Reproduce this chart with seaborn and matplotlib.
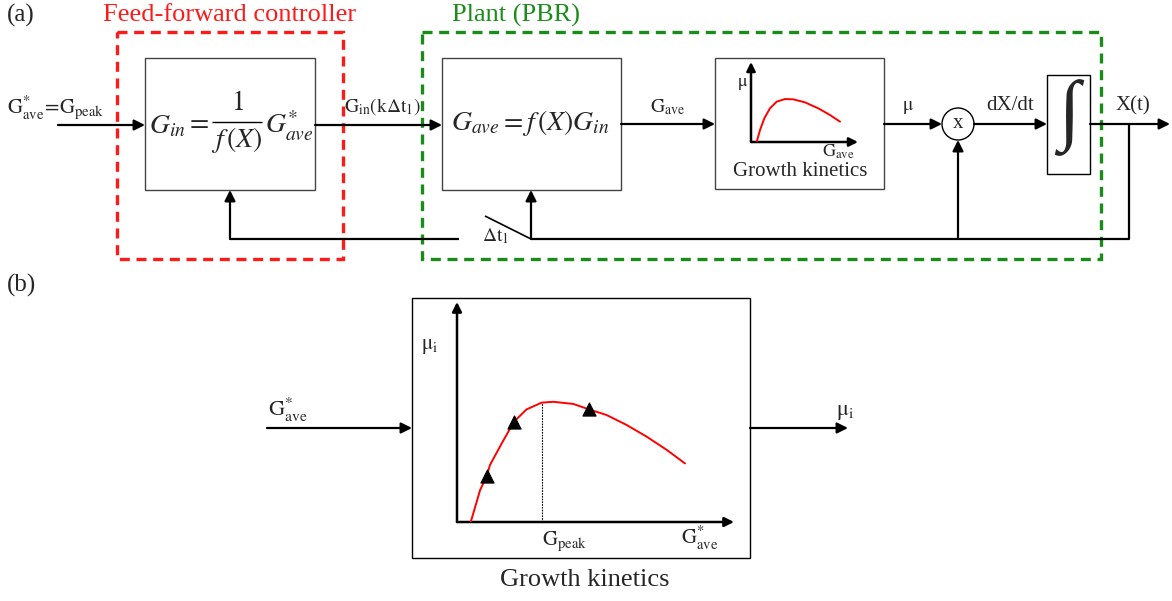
import numpy as np
import matplotlib
matplotlib.use("Agg")
import matplotlib.pyplot as plt
from matplotlib.patches import Rectangle, Circle
import seaborn as sns
import pandas as pd

# ---------------- data (normalised axes units) ----------------
# Growth kinetics curve of panel (b): G*_ave (x) vs mu_i (y), 0..1 of axis length
curve_G = [0.050, 0.084, 0.108, 0.120, 0.163, 0.207, 0.253, 0.308, 0.350, 0.423,
           0.480, 0.544, 0.617, 0.690, 0.763, 0.829]
curve_mu = [0.000, 0.147, 0.212, 0.263, 0.363, 0.462, 0.519, 0.550, 0.554, 0.544,
            0.519, 0.493, 0.447, 0.393, 0.332, 0.270]
# triangle markers on the curve
tri_G = [0.108, 0.207, 0.480]
tri_mu = [0.212, 0.462, 0.519]
# peak irradiance marker
G_peak = 0.308
mu_at_peak = 0.550
# small curve inside the "Growth kinetics" block of panel (a)
small_G = [0.054, 0.086, 0.127, 0.181, 0.244, 0.324, 0.403, 0.514, 0.641, 0.752, 0.848]
small_mu = [0.000, 0.152, 0.300, 0.427, 0.510, 0.544, 0.540, 0.502, 0.426, 0.342, 0.257]

# ---------------- style ----------------
sns.set_theme(style="white")
plt.rcParams['font.family'] = ['Liberation Serif', 'DejaVu Serif']
plt.rcParams['mathtext.fontset'] = 'stix'

W, H = 1172, 601
fig = plt.figure(figsize=(W / 100, H / 100), dpi=100)
ax = fig.add_axes([0, 0, 1, 1])
ax.set_xlim(0, W)
ax.set_ylim(H, 0)
ax.axis('off')

K = 'black'
LW = 1.6


def arrow(x0, y0, x1, y1, lw=LW, ms=16):
    ax.annotate('', xy=(x1, y1), xytext=(x0, y0),
                arrowprops=dict(arrowstyle='-|>', color=K, lw=lw, mutation_scale=ms,
                                shrinkA=0, shrinkB=0))


def line(xs, ys, lw=LW, **kw):
    ax.plot(xs, ys, color=K, lw=lw, solid_capstyle='butt', **kw)


def box(x0, y0, x1, y1, ec='#444444', lw=1.0):
    ax.add_patch(Rectangle((x0, y0), x1 - x0, y1 - y0, fill=False, ec=ec, lw=lw))


def txt(x, y, s, size=13, **kw):
    ax.text(x, y, s, fontsize=size, ha='center', va='center', **kw)


# ---------------- panel (a) ----------------
txt(21, 15, '(a)', size=18)
red = '#ff1a1a'
green = '#1a8c1a'
txt(230, 15, 'Feed-forward controller', size=19, color=red)
txt(516, 15, 'Plant (PBR)', size=19, color=green)
ax.add_patch(Rectangle((117, 32), 226, 227, fill=False, ec=red, lw=2.4, ls=(0, (3, 2))))
ax.add_patch(Rectangle((422, 32), 679, 227, fill=False, ec=green, lw=2.4, ls=(0, (3, 2))))

# controller block
box(145, 58, 315, 190)
txt(167, 127, r'$G_{in}$', size=20)
txt(197, 123, r'$=$', size=20)
line([212, 262], [122, 122], lw=1.0)
txt(237, 104, r'$1$', size=20)
txt(237, 140, r'$f\,(X)$', size=20)
txt(289, 126, r'$G^{*}_{ave}$', size=20)
arrow(58, 125, 145, 125)
txt(56, 107, r'$\mathrm{G^{*}_{ave}\!=\!G_{peak}}$', size=15)

# plant block
arrow(315, 125, 442, 125)
txt(383, 107, r'$\mathrm{G_{in}(k\Delta t_1)}$', size=14)
box(442, 58, 621, 190)
txt(530, 123, r'$G_{ave}=f\,(X)G_{in}$', size=20)

arrow(621, 124, 715, 124)
txt(668, 107, r'$\mathrm{G_{ave}}$', size=14)

# growth kinetics block
box(715, 58, 884, 189)
arrow(751, 142, 751, 62, lw=1.8, ms=13)
arrow(751, 142, 858, 142, lw=1.8, ms=13)
txt(743, 84, r'$\mathrm{\mu}$', size=13)
txt(838, 152, r'$\mathrm{G_{ave}}$', size=13)
txt(800, 172, 'Growth kinetics', size=15)
ax_s = fig.add_axes([751 / W, (H - 142) / H, 105 / W, 79 / H])
ax_s.set_xlim(0, 1)
ax_s.set_ylim(0, 1)
ax_s.axis('off')
sns.lineplot(x=small_G, y=small_mu, ax=ax_s, color='red', lw=1.4, sort=False)

# multiplier
arrow(884, 124, 942, 124)
txt(908, 107, r'$\mathrm{\mu}$', size=14)
ax.add_patch(Circle((958, 124), 16, fill=False, ec=K, lw=1.0))
txt(958, 123, 'x', size=15)
arrow(974, 124, 1047, 124)
txt(1010, 106, 'dX/dt', size=15)

# integrator
box(1047, 75, 1090, 174, ec=K)
ax.text(1069, 118, '\u222b', fontsize=56, ha='center', va='center',
        family=['Liberation Serif', 'DejaVu Serif'], fontweight='bold')
arrow(1090, 124, 1170, 124)
txt(1133, 106, 'X(t)', size=15)

# feedback path
line([1129, 1129, 531], [124, 239, 239])
line([459, 230], [239, 239])
arrow(230, 239, 230, 190)
arrow(958, 239, 958, 140)
arrow(531, 239, 531, 190)
line([485, 531], [216, 239], lw=1.2)
txt(496, 236, r'$\mathrm{\Delta t_1}$', size=14)

# ---------------- panel (b) ----------------
txt(21, 285, '(b)', size=18)
box(412, 298, 750, 558, ec=K)
txt(585, 580, 'Growth kinetics', size=19)
arrow(267, 428, 412, 428)
txt(288, 410, r'$\mathrm{G^{*}_{ave}}$', size=16)
arrow(750, 428, 848, 428)
txt(845, 412, r'$\mathrm{\mu_i}$', size=16)

arrow(457, 522, 457, 302, lw=1.8, ms=14)
arrow(457, 522, 734, 522, lw=1.8, ms=14)
txt(430, 346, r'$\mathrm{\mu_i}$', size=15)
txt(565, 541, r'$\mathrm{G_{peak}}$', size=15)
txt(700, 538, r'$\mathrm{G^{*}_{ave}}$', size=15)

ax_b = fig.add_axes([457 / W, (H - 522) / H, 275 / W, 217 / H])
ax_b.set_xlim(0, 1)
ax_b.set_ylim(0, 1)
ax_b.axis('off')
df = pd.DataFrame({'G': curve_G, 'mu': curve_mu})
sns.lineplot(data=df, x='G', y='mu', ax=ax_b, color='red', lw=1.4, sort=False)
ax_b.vlines(G_peak, 0, mu_at_peak, colors=K, lw=0.8, linestyles=(0, (1.5, 1)))
sns.scatterplot(x=tri_G, y=tri_mu, ax=ax_b, marker='^', s=90, color=K, edgecolor=K, zorder=5)

fig.savefig('out.png', dpi=100)
